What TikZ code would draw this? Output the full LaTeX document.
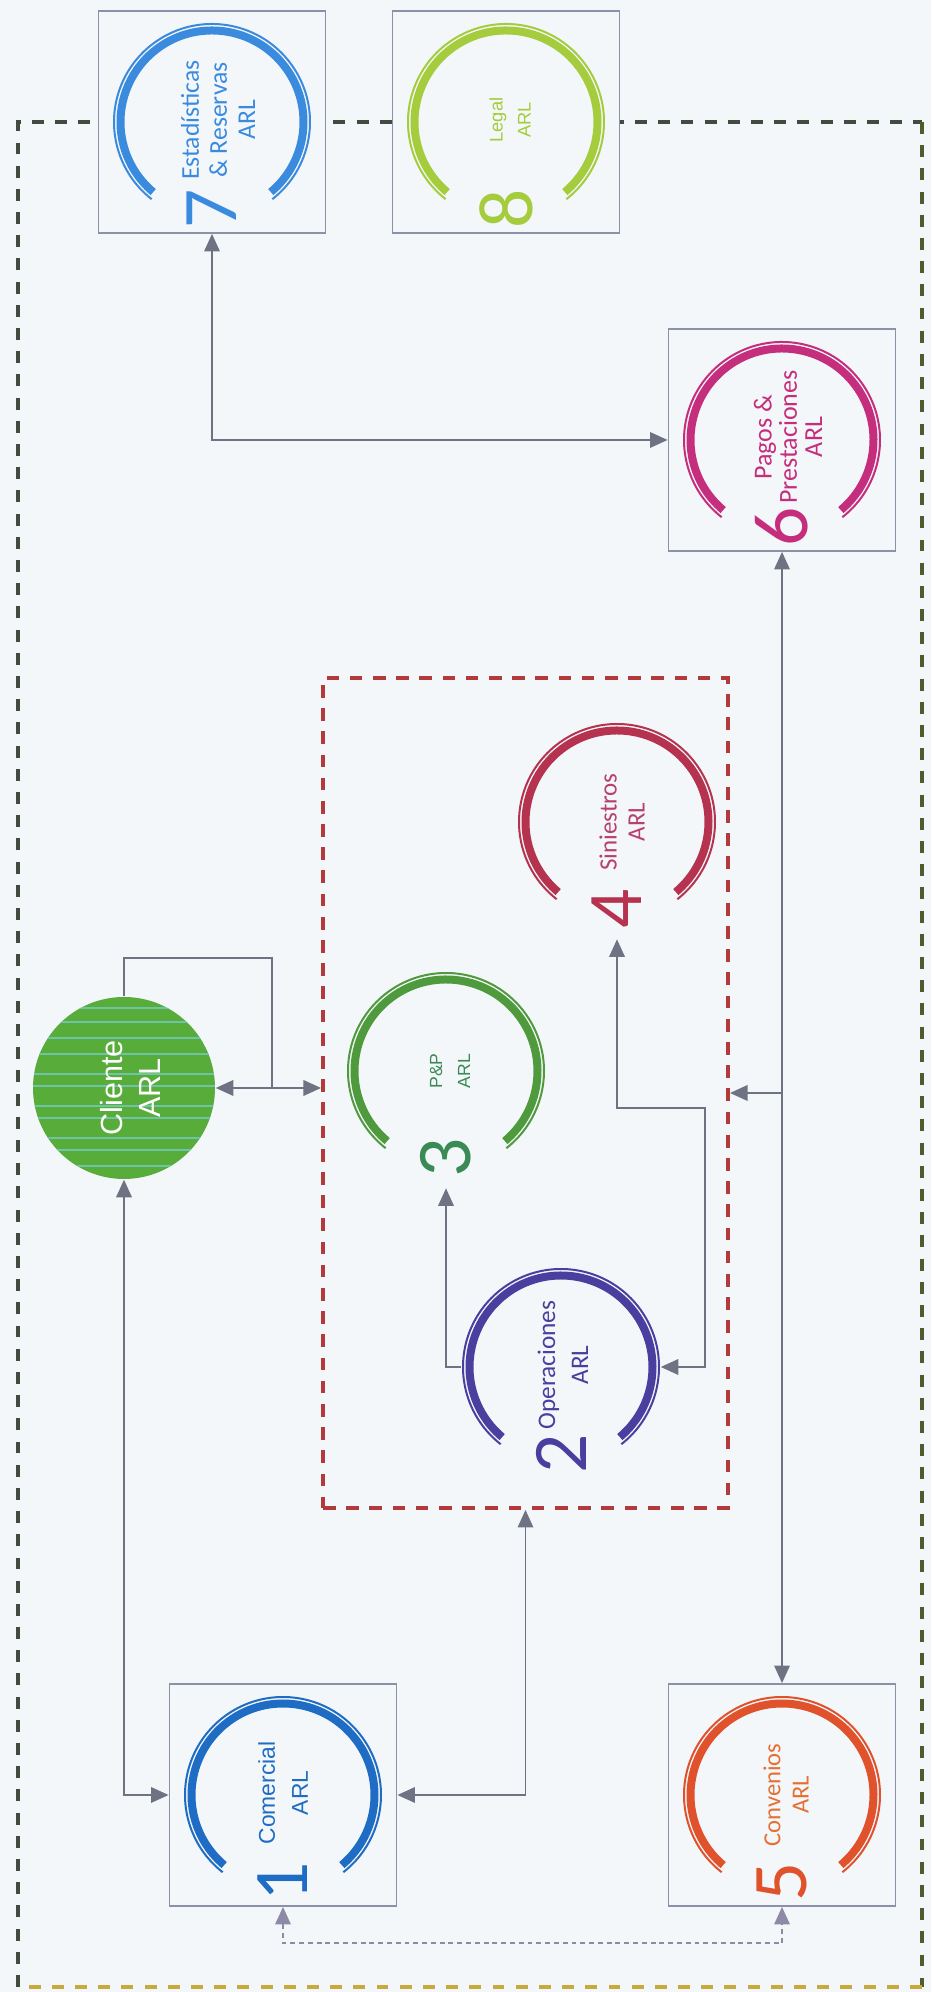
\documentclass[tikz,border=0pt]{standalone}
\usepackage{fontspec}
\setmainfont{Carlito}
\newfontfamily\arialfont{Liberation Sans}
\usetikzlibrary{arrows.meta}

\definecolor{bgcol}{HTML}{F4F7FA}
\definecolor{boxcol}{HTML}{8C90A8}
\definecolor{conncol}{HTML}{6E7282}
\definecolor{dotcol}{HTML}{8E8AA6}
\definecolor{redframe}{HTML}{B33A3A}
\definecolor{framedark}{HTML}{414B40}
\definecolor{frameolive}{HTML}{4F5A2E}
\definecolor{framegold}{HTML}{C8A93C}
\definecolor{comcol}{HTML}{1E6CC4}
\definecolor{opcol}{HTML}{4B3E9E}
\definecolor{ppcol}{HTML}{4E9A3C}
\definecolor{pptext}{HTML}{3A8A55}
\definecolor{sincol}{HTML}{B5334F}
\definecolor{sintext}{HTML}{B8406A}
\definecolor{convcol}{HTML}{E0522C}
\definecolor{convtext}{HTML}{E57034}
\definecolor{pagcol}{HTML}{C42E7C}
\definecolor{estcol}{HTML}{3A8BDE}
\definecolor{legcol}{HTML}{A4CC3C}
\definecolor{clicol}{HTML}{58AC3A}
\definecolor{clistripe}{HTML}{6FC4A8}

\begin{document}
\begin{tikzpicture}[>={Triangle[length=5pt,width=4.4pt]}]
\tikzstyle{modbox}=[draw=boxcol, fill=bgcol, line width=0.5pt, minimum width=2.27cm, minimum height=2.22cm]
\tikzstyle{ring}=[circle, minimum size=1.98cm, inner sep=0pt]
\tikzstyle{num}=[rotate=90, inner sep=1mm, font=\fontsize{22}{22}\selectfont]
\tikzstyle{lbl}=[rotate=90, align=center, inner sep=0pt]
\tikzstyle{conn}=[draw=conncol, line width=0.55pt]
\tikzstyle{dotconn}=[conn, draw=dotcol, dash pattern=on 1.4pt off 1.1pt]
\tikzstyle{outerframe}=[line width=1pt, dash pattern=on 3.4pt off 3.2pt]

\useasboundingbox (0,0) rectangle (9.31,19.92);
\fill[bgcol] (0,0) rectangle (9.31,19.92);

% outer frame
\coordinate (fsw) at (0.18,0.05);
\coordinate (fne) at (9.22,18.70);
\draw[outerframe, framedark] (fsw) |- (fne);
\draw[outerframe, frameolive] (fne) -- (fne |- fsw);
\draw[outerframe, framegold] (fne |- fsw) -- (fsw);

% boxed modules
\draw (2.83,1.97) node[modbox] (comercial) {};
\draw (7.82,1.97) node[modbox] (convenios) {};
\draw (7.82,15.52) node[modbox] (pagos) {};
\draw (2.12,18.70) node[modbox] (estad) {};
\draw (5.06,18.70) node[modbox] (legal) {};

% operaciones group
\draw (5.255,8.99) node[draw=redframe, line width=1.1pt, dash pattern=on 3.6pt off 3pt, minimum width=4.05cm, minimum height=8.3cm] (ops) {};
\draw (5.61,6.25) node[ring] (oper) {};
\draw (4.46,9.21) node[ring] (pp) {};
\draw (6.17,11.70) node[ring] (sin) {};

% client
\draw (1.24,9.04) node[circle, fill=clicol, minimum size=1.82cm, inner sep=0pt,
  path picture={\foreach \k in {-0.78,-0.62,-0.5,-0.3,-0.18,0.02,0.14,0.34,0.5,0.66,0.8}
    \draw[clistripe, line width=0.45pt] ([yshift=\k cm]path picture bounding box.west) -- ([yshift=\k cm]path picture bounding box.east);}] (cliente) {};

% rings
\foreach \m/\col in {comercial/comcol, oper/opcol, pp/ppcol, sin/sincol, convenios/convcol, pagos/pagcol, estad/estcol, legal/legcol}
{
  \draw[color=\col, line width=0.8mm] (\m) ++(-50:0.915) arc[start angle=-50, end angle=230, radius=0.915];
  \draw[color=\col, line width=0.2mm] (\m) ++(-52:0.98) arc[start angle=-52, end angle=232, radius=0.98];
}

% numbers
\draw (2.83,1.10) node[num, comcol] (n1) {1};
\draw (5.61,5.38) node[num, opcol] (n2) {2};
\draw (4.46,8.34) node[num, pptext] (n3) {3};
\draw (6.17,10.83) node[num, sincol] (n4) {4};
\draw (7.82,1.10) node[num, convcol] (n5) {5};
\draw (7.82,14.65) node[num, pagcol] (n6) {6};
\draw (2.12,17.83) node[num, estcol] (n7) {7};
\draw (5.06,17.83) node[num, legcol] (n8) {8};

% labels
\draw (2.83,1.99) node[lbl, comcol, font=\arialfont\fontsize{6.5}{9.4}\selectfont] (t1) {Comercial\\ARL};
\draw (5.63,6.27) node[lbl, opcol, font=\fontsize{7.2}{9.4}\selectfont] (t2) {Operaciones\\ARL};
\draw (4.50,9.21) node[lbl, pptext, font=\arialfont\fontsize{5}{8}\selectfont] (t3) {P\&P\\ARL};
\draw (6.22,11.70) node[lbl, sintext, font=\fontsize{7.1}{8}\selectfont] (t4) {Siniestros\\ARL};
\draw (7.86,1.97) node[lbl, convtext, font=\fontsize{7}{8}\selectfont] (t5) {Convenios\\ARL};
\draw (7.88,15.55) node[lbl, pagcol, font=\fontsize{7.4}{7.2}\selectfont] (t6) {Pagos \&\\Prestaciones\\ARL};
\draw (2.18,18.72) node[lbl, estcol, font=\fontsize{7.3}{8}\selectfont] (t7) {Estadísticas\\\& Reservas\\ARL};
\draw (5.10,18.72) node[lbl, legcol, font=\arialfont\fontsize{5.2}{8}\selectfont] (t8) {Legal\\ARL};
\draw (1.30,9.04) node[lbl, white, font=\arialfont\fontsize{8.7}{10.8}\selectfont] (tcli) {Cliente\\ARL};

% connectors
\draw[conn, <->] (cliente.south) |- (comercial.west);
\draw[conn, <->] (cliente.east) -- (cliente.east -| ops.west);
\coordinate (cliloop) at (2.72,10.34);
\draw[conn] (cliente.north) |- (cliloop) -- (cliloop |- cliente.east);
\draw[conn, <->] (comercial.east) -| (ops.south);
\coordinate (dotrow) at (5,0.49);
\draw[dotconn, <->] (comercial.south) |- (dotrow) -| (convenios.south);
\draw[conn, <->] (convenios.north) -- (pagos.south);
\draw[conn, ->] (convenios.north |- ops.east) -- (ops.east);
\draw[conn, <->] (estad.south) |- (pagos.west);
\draw[conn, ->] (oper.west) -| (n3);
\coordinate (bend4) at (7.05,8.84);
\draw[conn, <->] (oper.east) -| (bend4) -| (n4);
\end{tikzpicture}
\end{document}
